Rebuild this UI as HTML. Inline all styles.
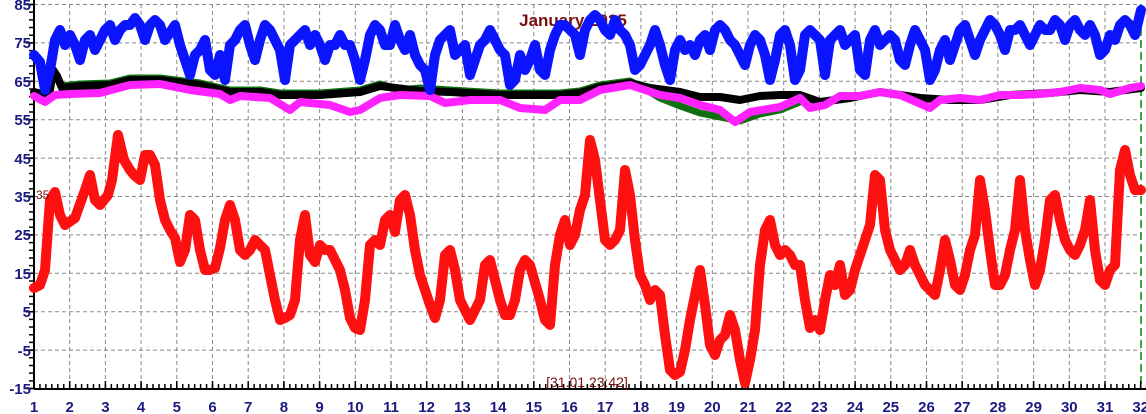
<!DOCTYPE html>
<html><head><style>
html,body{margin:0;padding:0;background:#fff;}
svg{display:block;font-family:"Liberation Sans",Arial,sans-serif;}
</style></head><body>
<svg width="1146" height="414" viewBox="0 0 1146 414" xmlns="http://www.w3.org/2000/svg">
<rect width="1146" height="414" fill="#fff"/>
<g stroke="#888" stroke-width="1" stroke-dasharray="4,3" fill="none">
<path d="M34 4.5H1141M34 42.9H1141M34 81.3H1141M34 119.7H1141M34 158.1H1141M34 196.5H1141M34 234.9H1141M34 273.3H1141M34 311.7H1141M34 350.1H1141"/>
<path d="M69.7 4V389M105.4 4V389M141.1 4V389M176.8 4V389M212.5 4V389M248.2 4V389M283.9 4V389M319.6 4V389M355.3 4V389M391 4V389M426.7 4V389M462.4 4V389M498.1 4V389M533.8 4V389M569.5 4V389M605.2 4V389M640.9 4V389M676.6 4V389M712.3 4V389M748 4V389M783.7 4V389M819.4 4V389M855.1 4V389M890.8 4V389M926.5 4V389M962.2 4V389M997.9 4V389M1033.6 4V389M1069.3 4V389M1105 4V389"/>
</g>
<line x1="1141" y1="4" x2="1141" y2="389" stroke="#080" stroke-width="1.5" stroke-dasharray="8,4"/>
<line x1="34" y1="0" x2="34" y2="389" stroke="#000" stroke-width="2"/>
<line x1="34" y1="389" x2="1146" y2="389" stroke="#000" stroke-width="2"/>
<g stroke="#000">
<line x1="31.5" y1="3.75" x2="31.5" y2="390" stroke-width="5" stroke-dasharray="1.5 6.18"/>
<line x1="30" y1="3.75" x2="30" y2="390" stroke-width="8" stroke-dasharray="1.5 36.9"/>
<line x1="33.25" y1="386.5" x2="1146" y2="386.5" stroke-width="5" stroke-dasharray="1.5 4.45"/>
<line x1="33.25" y1="385" x2="1146" y2="385" stroke-width="8" stroke-dasharray="1.5 34.2"/>
</g>
<g font-size="15" font-weight="bold" fill="#1a1a80" text-anchor="end">
<text x="31" y="10">85</text><text x="31" y="48">75</text><text x="31" y="87">65</text><text x="31" y="125">55</text><text x="31" y="164">45</text><text x="31" y="202">35</text><text x="31" y="240">25</text><text x="31" y="279">15</text><text x="31" y="317">5</text><text x="31" y="356">-5</text><text x="31" y="394">-15</text>
</g>
<g font-size="15" font-weight="bold" fill="#1a1a80" text-anchor="middle">
<text x="34" y="412">1</text><text x="69.7" y="412">2</text><text x="105.4" y="412">3</text><text x="141.1" y="412">4</text><text x="176.8" y="412">5</text><text x="212.5" y="412">6</text><text x="248.2" y="412">7</text><text x="283.9" y="412">8</text><text x="319.6" y="412">9</text><text x="355.3" y="412">10</text><text x="391" y="412">11</text><text x="426.7" y="412">12</text><text x="462.4" y="412">13</text><text x="498.1" y="412">14</text><text x="533.8" y="412">15</text><text x="569.5" y="412">16</text><text x="605.2" y="412">17</text><text x="640.9" y="412">18</text><text x="676.6" y="412">19</text><text x="712.3" y="412">20</text><text x="748" y="412">21</text><text x="783.7" y="412">22</text><text x="819.4" y="412">23</text><text x="855.1" y="412">24</text><text x="890.8" y="412">25</text><text x="926.5" y="412">26</text><text x="962.2" y="412">27</text><text x="997.9" y="412">28</text><text x="1033.6" y="412">29</text><text x="1069.3" y="412">30</text><text x="1105" y="412">31</text><text x="1140.7" y="412">32</text>
</g>
<text x="573" y="26" font-size="17" font-weight="bold" fill="#7a1010" text-anchor="middle">January 2025</text>
<text x="587" y="387" font-size="14" fill="#7a1010" text-anchor="middle">[31.01 23:42]</text>
<g fill="none" stroke-linejoin="round" stroke-linecap="round">
<polyline stroke="#107010" stroke-width="7" points="62,86 80,84 110,83 130,78 160,78 200,83 230,90 260,90 280,93 320,93 360,90 380,84 400,90 420,88 450,90 500,93 560,93 580,91 600,85 630,81 640,86 660,98 680,106 700,113 720,117 740,121 760,114 780,110 800,102"/>
<polyline stroke="#000" stroke-width="8" points="34,92 45,95 50,90 53,70 57,76 62,88 80,86 110,85 130,80 160,80 200,85 230,92 260,92 280,95 320,95 360,92 380,86 420,91 450,92 500,95 560,95 580,93 600,87 630,83 650,88 680,92 700,97 720,97 740,100 760,96 780,95 800,95 820,102 850,98 880,92 920,98 950,100 980,100 1010,95 1050,93 1080,90 1110,92 1141,88"/>
<polyline stroke="#ff22ff" stroke-width="8" points="34,96 45,102 55,95 70,94 100,93 130,85 160,84 190,90 220,94 230,100 240,96 270,98 290,110 300,102 330,105 350,112 360,110 380,98 400,95 430,96 445,103 470,100 500,100 520,108 545,110 560,100 580,100 600,90 630,85 660,95 680,98 700,105 720,110 735,122 750,112 780,107 800,98 810,108 825,105 840,96 860,96 880,92 900,95 930,108 940,100 960,98 980,100 1000,95 1020,95 1040,94 1060,92 1080,88 1100,90 1110,94 1130,88 1141,86"/>
<polyline stroke="#0a14ff" stroke-width="10" points="34,55 40,62 45,90 50,70 55,40 60,30 65,45 70,35 75,45 80,60 85,40 90,35 95,50 100,40 105,30 110,25 115,40 120,30 125,25 130,25 135,18 140,25 145,40 150,25 155,20 160,25 165,40 175,25 180,45 185,60 190,75 195,55 200,50 205,40 210,70 215,75 220,55 225,80 230,45 235,40 240,30 245,25 250,45 255,60 260,40 265,25 270,30 275,40 280,50 285,80 290,45 295,40 300,35 305,30 310,45 315,35 320,45 325,60 330,45 335,45 340,35 345,45 350,45 355,60 360,80 365,60 370,35 375,25 380,30 385,45 390,45 395,25 400,40 405,50 410,35 415,55 420,65 425,70 430,90 435,55 440,40 445,35 450,30 455,55 460,50 465,45 470,75 475,60 480,45 485,40 490,30 495,40 500,50 505,55 510,85 515,80 520,55 525,70 530,60 535,45 540,70 545,75 550,50 555,35 560,25 565,25 570,30 575,35 580,55 585,30 590,20 595,15 600,20 605,30 610,35 615,20 620,30 625,35 630,45 635,70 640,65 645,55 650,45 655,30 660,45 665,65 670,80 675,50 680,40 685,50 690,45 695,55 700,40 705,35 710,50 715,30 720,25 725,30 730,40 735,45 740,55 745,65 750,45 755,35 760,40 765,55 770,80 775,60 780,35 785,30 790,45 795,80 800,70 805,35 810,30 815,35 820,40 825,75 830,40 835,35 840,30 845,45 850,40 855,35 860,70 865,75 870,40 875,30 880,45 885,40 890,35 895,40 900,60 905,65 910,45 915,30 920,40 925,50 930,80 935,70 940,50 945,40 950,60 955,45 960,30 965,25 970,40 975,55 980,40 985,30 990,20 995,25 1000,35 1005,50 1010,30 1015,30 1020,25 1025,35 1030,45 1035,35 1040,25 1045,30 1050,30 1055,20 1060,25 1065,40 1070,25 1075,20 1080,30 1085,35 1090,25 1095,35 1100,55 1105,50 1110,35 1115,40 1120,25 1125,20 1130,25 1135,35 1141,10"/>
<polyline stroke="#ff1010" stroke-width="10" points="34,288 40,285 45,270 50,200 55,192 60,215 65,225 75,218 85,190 90,175 95,200 100,205 108,195 112,180 118,135 124,160 130,170 134,175 140,180 145,155 150,155 155,165 160,200 165,220 170,230 175,238 180,262 185,250 190,215 195,220 200,250 205,270 210,270 215,268 220,248 225,220 230,205 235,220 240,250 245,255 250,250 255,240 260,245 265,250 270,275 275,300 280,320 285,318 290,315 295,300 300,240 305,215 310,255 315,262 320,245 325,250 330,250 335,260 340,270 345,290 350,318 355,328 360,330 365,300 370,245 375,240 380,245 385,220 390,215 395,232 400,200 405,195 410,215 415,250 420,275 425,290 430,305 435,318 440,300 445,255 450,250 455,270 460,300 465,310 470,320 475,310 480,300 485,265 490,260 495,280 500,300 505,315 510,315 515,300 520,270 525,260 530,265 540,300 545,320 550,325 555,265 560,235 565,220 570,245 575,235 580,210 585,195 590,140 595,160 600,200 605,240 610,245 615,240 620,230 625,170 630,195 635,240 640,275 645,285 650,300 655,290 660,295 665,335 670,370 675,375 680,372 685,350 690,320 695,295 700,270 705,305 710,345 715,355 720,340 725,335 730,315 735,330 740,360 745,383 750,360 755,330 760,265 765,230 770,220 775,245 780,255 785,250 790,255 795,265 800,265 805,300 810,328 815,320 820,330 825,300 830,275 835,285 840,265 845,295 850,290 855,270 860,255 865,240 870,225 875,175 880,180 885,230 890,250 895,260 900,270 905,265 910,250 915,265 920,275 925,285 930,290 935,295 940,270 945,240 950,260 955,285 960,290 965,275 970,250 975,235 980,180 985,210 990,250 995,285 1000,285 1005,275 1010,250 1015,230 1020,180 1025,230 1030,260 1035,285 1040,270 1045,240 1050,200 1055,195 1060,220 1065,240 1070,250 1075,255 1080,245 1085,230 1090,200 1095,250 1100,280 1105,285 1110,270 1115,265 1120,170 1125,150 1130,175 1135,190 1141,190"/>
</g>
<text x="36" y="199" font-size="12" fill="#7a1010">35</text>
</svg>
</body></html>
